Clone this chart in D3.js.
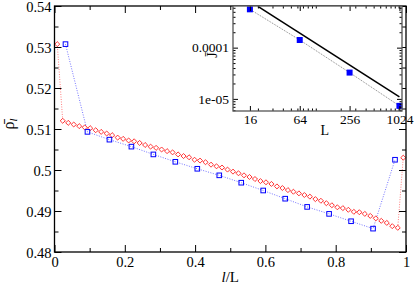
<!doctype html>
<html>
<head>
<meta charset="utf-8">
<title>density profile</title>
<script src="https://cdnjs.cloudflare.com/ajax/libs/d3/7.8.5/d3.min.js"></script>
<style>
  body { margin: 0; background: #fff; }
  svg text { font-family: "Liberation Serif", "Times New Roman", "DejaVu Serif", serif !important; fill: #000; }
</style>
</head>
<body>
<div id="chart"></div>
<script>
// density profile, L = 64 (red diamonds), one value per site
const rhoL64 = [
  0.5307, 0.5120, 0.5115, 0.5111, 0.5107, 0.5104, 0.5102, 0.5097,
  0.5093, 0.5089, 0.5085, 0.5079, 0.5076, 0.5072, 0.5070, 0.5066,
  0.5061, 0.5057, 0.5054, 0.5050, 0.5046, 0.5043, 0.5038, 0.5034,
  0.5031, 0.5025, 0.5023, 0.5019, 0.5013, 0.5009, 0.5006, 0.5001,
  0.4996, 0.4992, 0.4987, 0.4983, 0.4978, 0.4973, 0.4970, 0.4966,
  0.4960, 0.4956, 0.4951, 0.4947, 0.4943, 0.4939, 0.4935, 0.4929,
  0.4925, 0.4919, 0.4914, 0.4909, 0.4907, 0.4903, 0.4898, 0.4897,
  0.4893, 0.4888, 0.4882, 0.4876, 0.4871, 0.4863, 0.4859, 0.5030
];
// density profile, L = 16 (blue squares)
const rhoL16 = [
  0.5307, 0.5093, 0.5074, 0.5057, 0.5038, 0.5020, 0.5003, 0.4987,
  0.4969, 0.4950, 0.4930, 0.4910, 0.4893, 0.4875, 0.4857, 0.5025
];

// inset: current against system size
const sizesL = [16, 64, 256, 1024];
const currentJ = [5.6e-4, 1.41e-4, 3.26e-5, 7.3e-6];
const guideL = [20, 1024];
const guideJ = [6.4e-4, 1.1e-5];

const xTicks = [0, 0.2, 0.4, 0.6, 0.8, 1];
const xTickLabels = ["0", "0.2", "0.4", "0.6", "0.8", "1"];
const yTicks = [0.48, 0.49, 0.5, 0.51, 0.52, 0.53, 0.54];
const yTickLabels = ["0.48", "0.49", "0.5", "0.51", "0.52", "0.53", "0.54"];
const insetXTicks = [16, 64, 256, 1024];
const insetYTicks = [1e-5, 1e-4];
const insetYTickLabels = ["1e-05", "0.0001"];

const W = 415, H = 285;
const serif = "'Liberation Serif', 'Times New Roman', 'DejaVu Serif', serif";
const svg = d3.select("#chart").append("svg")
  .attr("width", W).attr("height", H)
  .attr("font-family", serif);

// ---- main plot ----
const x = d3.scaleLinear().domain([0, 1]).range([54.5, 406]);
const y = d3.scaleLinear().domain([0.48, 0.54]).range([252, 6]);

const siteX = (n) => (i) => (i + 0.5) / n;
const red = rhoL64.map((v, i) => [siteX(64)(i), v]);
const blue = rhoL16.map((v, i) => [siteX(16)(i), v]);

const line = d3.line().x(d => x(d[0])).y(d => y(d[1]));

svg.append("path").datum(red).attr("d", line)
  .attr("fill", "none").attr("stroke", "#ff0000").attr("stroke-opacity", 0.5)
  .attr("stroke-width", 1).attr("stroke-dasharray", "1,1.5");
svg.append("path").datum(blue).attr("d", line)
  .attr("fill", "none").attr("stroke", "#0000ff").attr("stroke-opacity", 0.55)
  .attr("stroke-width", 1).attr("stroke-dasharray", "1,1.5");

svg.selectAll(".dia").data(red).join("path")
  .attr("class", "dia")
  .attr("d", d3.symbol().type(d3.symbolDiamond2).size(16))
  .attr("transform", d => `translate(${x(d[0])},${y(d[1])})`)
  .attr("fill", "#fff").attr("stroke", "#ff2020").attr("stroke-width", 0.9);

svg.selectAll(".sq").data(blue).join("rect")
  .attr("class", "sq")
  .attr("x", d => x(d[0]) - 2.3).attr("y", d => y(d[1]) - 2.3)
  .attr("width", 4.6).attr("height", 4.6)
  .attr("fill", "none").attr("stroke", "#0000ff").attr("stroke-width", 1);

// axes, ticks pointing inward
const fontMain = "14.5px";
const xMinor = d3.range(0.1, 1, 0.2);
const yMinor = d3.range(0.485, 0.54, 0.01);

function styleAxis(g) {
  g.attr("font-family", serif);
  g.select(".domain").remove();
  g.selectAll("line").attr("stroke", "#000");
  g.selectAll("text").attr("font-size", fontMain).style("font-family", serif);
}

svg.append("g").attr("transform", `translate(0,${y(0.48)})`)
  .call(d3.axisBottom(x).tickValues(xTicks).tickSize(-7).tickPadding(5)
    .tickFormat((d, i) => xTickLabels[i])).call(styleAxis);
svg.append("g").attr("transform", `translate(0,${y(0.48)})`)
  .call(d3.axisBottom(x).tickValues(xMinor).tickSize(-4).tickFormat("")).call(styleAxis);
svg.append("g").attr("transform", `translate(0,${y(0.54)})`)
  .call(d3.axisTop(x).tickValues(xTicks).tickSize(-7).tickFormat("")).call(styleAxis);
svg.append("g").attr("transform", `translate(0,${y(0.54)})`)
  .call(d3.axisTop(x).tickValues(xMinor).tickSize(-4).tickFormat("")).call(styleAxis);

svg.append("g").attr("transform", `translate(${x(0)},0)`)
  .call(d3.axisLeft(y).tickValues(yTicks).tickSize(-7).tickPadding(3)
    .tickFormat((d, i) => yTickLabels[i])).call(styleAxis)
  .selectAll("text").attr("dy", "0.38em");
svg.append("g").attr("transform", `translate(${x(0)},0)`)
  .call(d3.axisLeft(y).tickValues(yMinor).tickSize(-4).tickFormat("")).call(styleAxis);
svg.append("g").attr("transform", `translate(${x(1)},0)`)
  .call(d3.axisRight(y).tickValues(yTicks).tickSize(-7).tickFormat("")).call(styleAxis);
svg.append("g").attr("transform", `translate(${x(1)},0)`)
  .call(d3.axisRight(y).tickValues(yMinor).tickSize(-4).tickFormat("")).call(styleAxis);

svg.append("rect")
  .attr("x", x(0)).attr("y", y(0.54))
  .attr("width", x(1) - x(0)).attr("height", y(0.48) - y(0.54))
  .attr("fill", "none").attr("stroke", "#000").attr("stroke-width", 1.3);

// axis titles
svg.append("text")
  .attr("x", (x(0) + x(1)) / 2).attr("y", 282)
  .attr("text-anchor", "middle").attr("font-size", "15px")
  .call(t => {
    t.append("tspan").attr("font-style", "italic").text("l");
    t.append("tspan").text("/L");
  });

svg.append("text")
  .attr("transform", "translate(14,124) rotate(-90)")
  .attr("text-anchor", "middle").attr("font-size", "16px")
  .call(t => {
    t.append("tspan").text("ρ\u0304");
    t.append("tspan").attr("font-style", "italic").attr("font-size", "11px")
      .attr("dy", 3).text("l");
  });

// ---- inset ----
const xi = d3.scaleLog().base(2).domain([10, 1100]).range([233, 402]);
const yi = d3.scaleLog().domain([5.8e-6, 6.5e-4]).range([111, 6]);

const inset = svg.append("g");
inset.append("rect")
  .attr("x", 233).attr("y", 6).attr("width", 402 - 233).attr("height", 111 - 6)
  .attr("fill", "#fff");

inset.append("clipPath").attr("id", "clipInset")
  .append("rect").attr("x", 233).attr("y", 6).attr("width", 402 - 233).attr("height", 111 - 6);

const iline = d3.line().x(d => xi(d[0])).y(d => yi(d[1]));
const pts = sizesL.map((L, i) => [L, currentJ[i]]);
const guide = guideL.map((L, i) => [L, guideJ[i]]);

inset.append("path").datum(guide).attr("d", iline)
  .attr("clip-path", "url(#clipInset)")
  .attr("fill", "none").attr("stroke", "#000").attr("stroke-width", 1.5);
inset.append("path").datum(pts).attr("d", iline)
  .attr("fill", "none").attr("stroke", "#888").attr("stroke-width", 1)
  .attr("stroke-dasharray", "1,1");
inset.selectAll(".fsq").data(pts).join("rect")
  .attr("class", "fsq")
  .attr("x", d => xi(d[0]) - 3).attr("y", d => yi(d[1]) - 3)
  .attr("width", 6).attr("height", 6)
  .attr("fill", "#0000ff");

const xiMinor = d3.scaleLog().domain(xi.domain()).ticks()
  .filter(v => v > 10 && v < 1100);
const yiMinor = d3.scaleLog().domain(yi.domain()).ticks()
  .filter(v => !insetYTicks.some(m => Math.abs(m - v) / m < 1e-6));

function styleInset(g) {
  g.attr("font-family", serif);
  g.select(".domain").remove();
  g.selectAll("line").attr("stroke", "#000");
  g.selectAll("text").attr("font-size", "13.5px").style("font-family", serif);
}

inset.append("g").attr("transform", "translate(0,111)")
  .call(d3.axisBottom(xi).tickValues(insetXTicks).tickSize(-5).tickPadding(3)
    .tickFormat(d3.format("d"))).call(styleInset);
inset.append("g").attr("transform", "translate(0,111)")
  .call(d3.axisBottom(xi).tickValues(xiMinor).tickSize(-2.5).tickFormat("")).call(styleInset);
inset.append("g").attr("transform", "translate(0,6)")
  .call(d3.axisTop(xi).tickValues(insetXTicks).tickSize(-5).tickFormat("")).call(styleInset);
inset.append("g").attr("transform", "translate(0,6)")
  .call(d3.axisTop(xi).tickValues(xiMinor).tickSize(-2.5).tickFormat("")).call(styleInset);

inset.append("g").attr("transform", "translate(233,0)")
  .call(d3.axisLeft(yi).tickValues(insetYTicks).tickSize(-5).tickPadding(4)
    .tickFormat((d, i) => insetYTickLabels[i])).call(styleInset);
inset.append("g").attr("transform", "translate(233,0)")
  .call(d3.axisLeft(yi).tickValues(yiMinor).tickSize(-2.5).tickFormat("")).call(styleInset);
inset.append("g").attr("transform", "translate(402,0)")
  .call(d3.axisRight(yi).tickValues(insetYTicks).tickSize(-5).tickFormat("")).call(styleInset);
inset.append("g").attr("transform", "translate(402,0)")
  .call(d3.axisRight(yi).tickValues(yiMinor).tickSize(-2.5).tickFormat("")).call(styleInset);

inset.append("rect")
  .attr("x", 233).attr("y", 6).attr("width", 402 - 233).attr("height", 111 - 6)
  .attr("fill", "none").attr("stroke", "#555").attr("stroke-width", 1.3);

inset.append("text")
  .attr("x", (xi(16) + xi(1024)) / 2).attr("y", 135)
  .attr("text-anchor", "middle").attr("font-size", "14px").text("L");
inset.append("text")
  .attr("transform", "translate(217,55) rotate(-90)")
  .attr("text-anchor", "middle").attr("font-size", "14px").text("J\u0304");
</script>
</body>
</html>
